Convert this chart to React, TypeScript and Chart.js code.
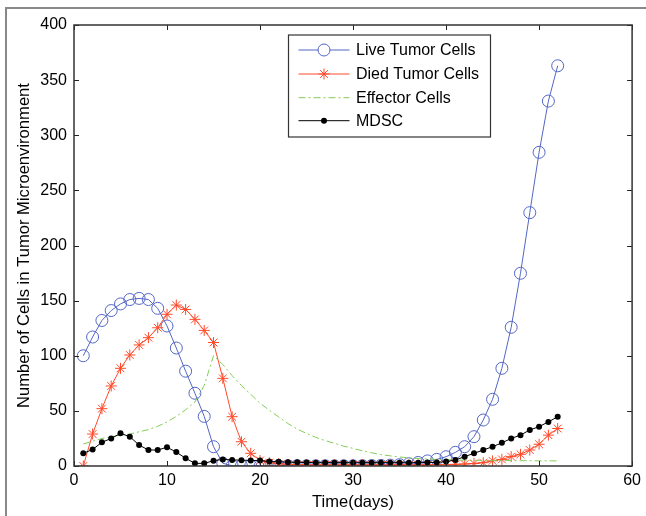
import React, { useEffect, useRef } from "react";
import { Chart, registerables } from "chart.js";

Chart.register(...registerables);

const days = [1, 2, 3, 4, 5, 6, 7, 8, 9, 10, 11, 12, 13, 14, 15, 16, 17, 18, 19, 20, 21, 22, 23, 24, 25, 26, 27, 28, 29, 30, 31, 32, 33, 34, 35, 36, 37, 38, 39, 40, 41, 42, 43, 44, 45, 46, 47, 48, 49, 50, 51, 52];

const liveTumor = [100, 117, 132, 141, 147, 151, 152, 151, 143, 127, 107, 86, 66, 45, 17.5, 2.5, 0.2, 0.2, 0.2, 0.2, 0.2, 0.2, 0.2, 0.2, 0.2, 0.2, 0.2, 0.2, 0.2, 0.2, 0.3, 0.4, 0.5, 0.8, 1.2, 2, 3.2, 4.6, 6, 8.4, 12.4, 17.5, 26.6, 41.7, 60.5, 88.6, 125.8, 174.8, 229.8, 284.5, 331, 363];

const diedTumor = [0, 29, 52, 72.6, 88.6, 100.7, 109.8, 116.4, 125.4, 137.6, 146, 142, 133, 123, 112, 79.5, 44.7, 22, 11.5, 5, 3, 2, 1.5, 1.2, 1, 1, 1, 1, 1, 1, 1, 1, 1, 1, 1, 1, 1, 1, 1, 1.2, 1.5, 1.8, 2.3, 3, 4.7, 6, 8.5, 10.6, 14.5, 19.7, 28, 34];

const effectorCells = [20, 22.5, 25, 26.5, 28, 29, 31, 33, 36, 40, 45, 51, 58, 73, 100, 92, 82, 73, 65, 57, 50.5, 44.5, 38.5, 33.5, 29.5, 26, 23, 20.6, 18, 16, 13.8, 12, 10.3, 9.2, 8.2, 7.4, 6.8, 6.3, 6, 5.7, 5.5, 5.3, 5.2, 5.1, 5, 5, 4.9, 4.8, 4.8, 4.7, 4.7, 4.6];

const mdsc = [11.5, 15, 21.5, 25, 29.6, 26.6, 19, 14.5, 14.5, 17, 12.6, 7, 2.4, 2.4, 4.8, 6, 5.5, 5.3, 5.1, 5, 4, 3.8, 3.5, 3.3, 3.2, 3, 3, 3, 3, 3, 3, 3, 3, 3, 3, 3, 3, 3.2, 3.2, 4, 5.4, 8.5, 11.5, 14.5, 17.5, 21, 25, 28, 32.7, 35.7, 40, 44.7];

const seriesNames = ["Live Tumor Cells", "Died Tumor Cells", "Effector Cells", "MDSC"];
const xTickValues = [0, 10, 20, 30, 40, 50, 60];
const yTickValues = [0, 50, 100, 150, 200, 250, 300, 350, 400];
const xTitle = "Time(days)";
const yTitle = "Number of Cells in Tumor Microenvironment";

const FONT = "'Liberation Sans', Arial, sans-serif";
const BLUE = "#5366c6";
const RED = "#ff4a2a";
const GREEN = "#86cc58";
const BLACK = "#000000";

const toPoints = (ys: number[]) => days.map((d, i) => ({ x: d, y: ys[i] }));

const boxTicksPlugin = {
  id: "boxTicks",
  afterDatasetsDraw(chart: any) {
    const { ctx, chartArea: a, scales } = chart;
    const xs = scales.x;
    const ys = scales.y;
    const len = 5;
    ctx.save();
    ctx.strokeStyle = "#222";
    ctx.lineWidth = 1;
    ctx.beginPath();
    xTickValues.forEach((v) => {
      const px = Math.round(xs.getPixelForValue(v)) + 0.5;
      ctx.moveTo(px, a.bottom);
      ctx.lineTo(px, a.bottom - len);
      ctx.moveTo(px, a.top);
      ctx.lineTo(px, a.top + len);
    });
    yTickValues.forEach((v) => {
      const py = Math.round(ys.getPixelForValue(v)) + 0.5;
      ctx.moveTo(a.left, py);
      ctx.lineTo(a.left + len, py);
      ctx.moveTo(a.right, py);
      ctx.lineTo(a.right - len, py);
    });
    ctx.stroke();
    ctx.lineWidth = 1.5;
    ctx.strokeStyle = "#333";
    ctx.strokeRect(a.left, a.top, a.right - a.left, a.bottom - a.top);
    ctx.restore();
  },
};

const legendPlugin = {
  id: "customLegend",
  afterDraw(chart: any) {
    const { ctx, chartArea: a } = chart;
    const x0 = a.left + 214.5;
    const y0 = a.top + 10;
    const w = 202;
    const h = 102;
    ctx.save();
    ctx.fillStyle = "#fff";
    ctx.fillRect(x0, y0, w, h);
    ctx.strokeStyle = "#333";
    ctx.lineWidth = 1.2;
    ctx.strokeRect(x0, y0, w, h);
    const rows = [15, 39, 62.7, 85.7];
    const colors = [BLUE, RED, GREEN, BLACK];
    rows.forEach((ry, i) => {
      const y = y0 + ry;
      const lx1 = x0 + 10;
      const lx2 = x0 + 61;
      const mx = (lx1 + lx2) / 2;
      ctx.strokeStyle = colors[i];
      ctx.lineWidth = 1;
      ctx.setLineDash(i === 2 ? [7, 3, 2, 3] : []);
      ctx.beginPath();
      ctx.moveTo(lx1, y);
      ctx.lineTo(lx2, y);
      ctx.stroke();
      ctx.setLineDash([]);
      if (i === 0) {
        ctx.beginPath();
        ctx.arc(mx, y, 6, 0, Math.PI * 2);
        ctx.fillStyle = "#fff";
        ctx.fill();
        ctx.stroke();
      } else if (i === 1) {
        const r = 5.5;
        ctx.beginPath();
        for (let k = 0; k < 4; k++) {
          const ang = (k * Math.PI) / 4;
          ctx.moveTo(mx - r * Math.cos(ang), y - r * Math.sin(ang));
          ctx.lineTo(mx + r * Math.cos(ang), y + r * Math.sin(ang));
        }
        ctx.stroke();
      } else if (i === 3) {
        ctx.beginPath();
        ctx.arc(mx, y, 3, 0, Math.PI * 2);
        ctx.fillStyle = BLACK;
        ctx.fill();
      }
      ctx.fillStyle = "#000";
      ctx.font = `16px ${FONT}`;
      ctx.textBaseline = "middle";
      ctx.textAlign = "left";
      ctx.fillText(seriesNames[i], x0 + 67.5, y + 1);
    });
    ctx.restore();
  },
};

function ChartView() {
  const ref = useRef<HTMLCanvasElement | null>(null);
  useEffect(() => {
    if (!ref.current) return;
    const chart = new Chart(ref.current, {
      type: "line",
      data: {
        datasets: [
          {
            label: seriesNames[0],
            data: toPoints(liveTumor),
            borderColor: BLUE,
            backgroundColor: "rgba(0,0,0,0)",
            borderWidth: 1,
            pointStyle: "circle",
            pointRadius: 6,
            pointBorderWidth: 1,
            pointBorderColor: BLUE,
            pointBackgroundColor: "rgba(0,0,0,0)",
            tension: 0,
            order: 3,
          },
          {
            label: seriesNames[1],
            data: toPoints(diedTumor),
            borderColor: RED,
            backgroundColor: "rgba(0,0,0,0)",
            borderWidth: 1,
            pointStyle: "star",
            pointRadius: 5.5,
            pointBorderWidth: 1,
            pointBorderColor: RED,
            tension: 0,
            order: 2,
          },
          {
            label: seriesNames[2],
            data: toPoints(effectorCells),
            borderColor: GREEN,
            backgroundColor: "rgba(0,0,0,0)",
            borderWidth: 1,
            borderDash: [7, 3, 2, 3],
            pointRadius: 0,
            tension: 0,
            order: 1,
          },
          {
            label: seriesNames[3],
            data: toPoints(mdsc),
            borderColor: BLACK,
            backgroundColor: BLACK,
            borderWidth: 1,
            pointStyle: "circle",
            pointRadius: 3,
            pointBorderWidth: 0,
            pointBackgroundColor: BLACK,
            tension: 0,
            order: 0,
          },
        ],
      },
      options: {
        animation: false,
        responsive: false,
        maintainAspectRatio: false,
        devicePixelRatio: 1,
        layout: { padding: { top: 25, right: 13, left: 0, bottom: 0 } },
        plugins: {
          legend: { display: false },
          tooltip: { enabled: false },
        },
        scales: {
          x: {
            type: "linear",
            min: 0,
            max: 60,
            afterFit: (s: any) => {
              s.height = 50;
            },
            afterBuildTicks: (s: any) => {
              s.ticks = xTickValues.map((v) => ({ value: v }));
            },
            ticks: {
              color: "#000",
              padding: 5,
              font: { family: FONT, size: 16 },
              maxRotation: 0,
            },
            grid: { display: false, drawTicks: false },
            border: { display: false },
            title: {
              display: true,
              text: xTitle,
              color: "#000",
              font: { family: FONT, size: 16.5 },
              padding: { top: 0, bottom: 4 },
            },
          },
          y: {
            type: "linear",
            min: 0,
            max: 400,
            afterFit: (s: any) => {
              s.width = 74;
            },
            afterBuildTicks: (s: any) => {
              s.ticks = yTickValues.map((v) => ({ value: v }));
            },
            ticks: {
              color: "#000",
              padding: 7,
              font: { family: FONT, size: 16 },
            },
            grid: { display: false, drawTicks: false },
            border: { display: false },
            title: {
              display: true,
              text: yTitle,
              color: "#000",
              font: { family: FONT, size: 16.6 },
              padding: { top: 14, bottom: 0 },
            },
          },
        },
      },
      plugins: [boxTicksPlugin, legendPlugin],
    });
    return () => chart.destroy();
  }, []);
  return (
    <canvas
      ref={ref}
      width={646}
      height={516}
      style={{ display: "block", width: 646, height: 516 }}
    />
  );
}

export default function App() {
  return (
    <div style={{ position: "absolute", left: 0, top: 0, width: 646, height: 516, background: "#fff", overflow: "hidden" }}>
      <div
        style={{
          position: "absolute",
          left: 5,
          top: 7,
          width: 641,
          height: 509,
          borderTop: "2px solid #888",
          borderLeft: "2px solid #888",
          boxSizing: "border-box",
        }}
      />
      <div style={{ position: "absolute", left: 0, top: 0 }}>
        <ChartView />
      </div>
    </div>
  );
}
